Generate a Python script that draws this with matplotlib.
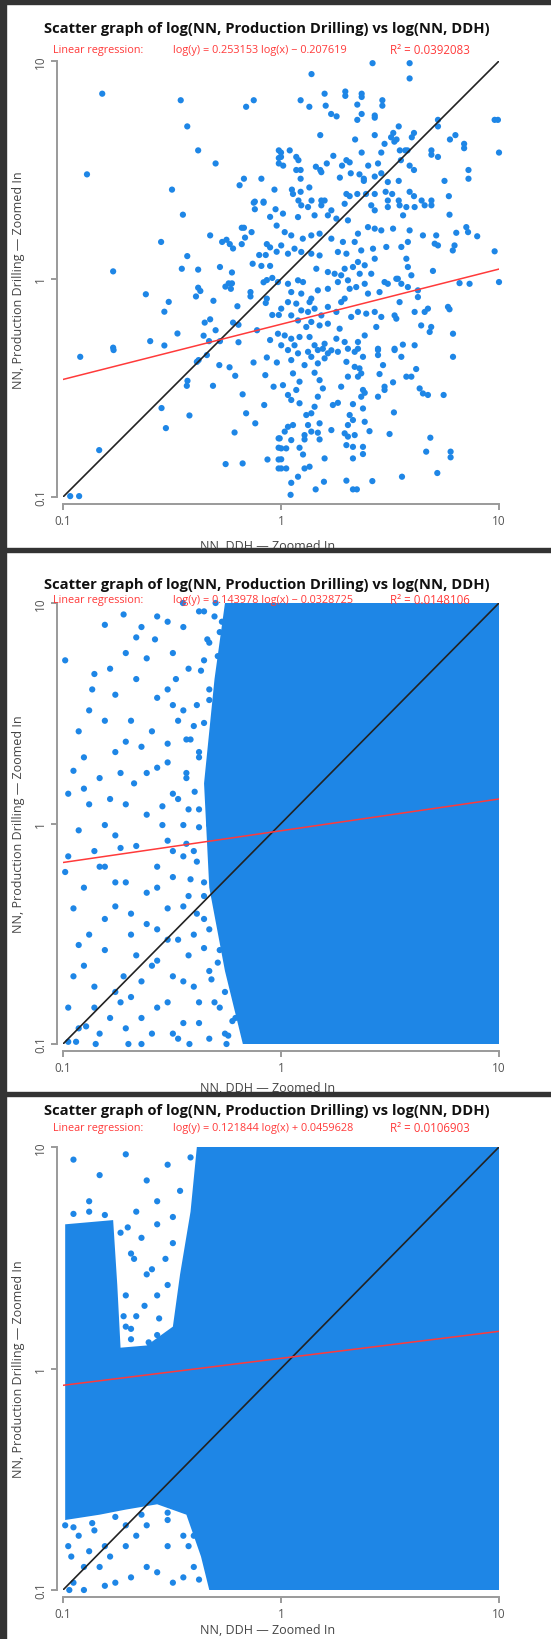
import matplotlib.pyplot as plt
from matplotlib.patches import Rectangle
from matplotlib.ticker import NullLocator
import numpy as np

# points are stored as (log10 NN DDH, log10 NN Production Drilling)
p1_points = [
    (-0.82, 0.85), (-0.46, 0.82), (-0.16, 0.79), (-0.125, 0.82), (-0.43, 0.70), (-0.38, 0.59),
    (-0.30, 0.53), (-0.89, 0.48), (-0.50, 0.41), (-0.17, 0.46), (-0.19, 0.43), (-0.09, 0.46),
    (-0.03, 0.41), (-0.12, 0.355), (-0.08, 0.355), (-0.01, 0.59), (-0.01, 0.555), (-0.01, 0.53),
    (0.42, 0.99), (0.59, 0.99), (0.59, 0.92), (0.14, 0.94), (0.20, 0.85), (0.295, 0.86),
    (0.295, 0.84), (0.37, 0.85), (0.37, 0.835), (0.09, 0.82), (0.13, 0.79), (0.205, 0.795),
    (0.35, 0.80), (0.465, 0.82), (0.465, 0.795), (0.23, 0.757), (0.255, 0.746), (0.35, 0.73),
    (0.37, 0.757), (0.43, 0.75), (0.43, 0.74), (0.18, 0.66), (0.34, 0.64), (0.43, 0.66),
    (0.54, 0.70), (0.515, 0.67), (0.505, 0.65), (0.53, 0.64), (0.52, 0.63), (0.61, 0.67),
    (0.60, 0.65), (0.72, 0.73), (0.72, 0.70), (0.98, 0.73), (0.995, 0.73), (0.80, 0.66),
    (0.775, 0.64), (0.84, 0.62), (0.84, 0.60), (1.0, 0.58), (0.69, 0.59), (0.69, 0.57),
    (0.72, 0.56), (0.475, 0.62), (0.37, 0.58), (0.46, 0.58), (0.545, 0.59), (0.57, 0.59),
    (0.58, 0.59), (0.55, 0.545), (0.59, 0.52), (0.61, 0.50), (0.04, 0.59), (0.00, 0.58),
    (0.00, 0.56), (0.01, 0.52), (0.07, 0.56), (0.08, 0.545), (0.07, 0.50), (0.09, 0.50),
    (0.09, 0.46), (0.24, 0.565), (0.21, 0.53), (0.16, 0.515), (0.18, 0.50), (0.185, 0.49),
    (0.28, 0.52), (0.30, 0.545), (0.315, 0.535), (0.32, 0.485), (0.36, 0.48), (0.38, 0.46),
    (0.38, 0.45), (0.40, 0.52), (0.445, 0.53), (0.46, 0.485), (0.43, 0.47), (0.49, 0.445),
    (0.54, 0.45), (0.27, 0.465), (0.86, 0.50), (0.86, 0.46), (0.75, 0.45), (0.77, 0.38),
    (0.13, 0.42), (0.05, 0.41), (0.055, 0.39), (0.09, 0.40), (0.30, 0.39), (0.315, 0.38),
    (0.35, 0.39), (0.39, 0.39), (0.43, 0.39), (0.48, 0.40), (0.51, 0.39), (0.59, 0.40),
    (0.61, 0.38), (0.08, 0.36), (0.14, 0.36), (0.185, 0.36), (0.20, 0.36), (0.49, 0.36),
    (0.54, 0.36), (0.645, 0.36), (0.69, 0.36),
    (-0.45, 0.295), (-0.55, 0.17), (-0.77, 0.035), (-0.43, 0.105), (-0.455, 0.047), (-0.38, 0.043),
    (-0.325, 0.20), (-0.28, 0.055), (-0.225, 0.03), (-0.27, 0.17), (-0.25, 0.18), (-0.235, 0.16),
    (-0.22, 0.14), (-0.18, 0.235), (-0.17, 0.235), (-0.135, 0.215), (-0.18, 0.16), (-0.165, 0.19),
    (-0.125, 0.35), (-0.12, 0.32), (-0.08, 0.35), (-0.05, 0.285), (-0.025, 0.32), (-0.02, 0.245),
    (-0.065, 0.16), (-0.07, 0.11), (-0.10, 0.11), (-0.05, 0.145), (-0.02, 0.125), (-0.13, 0.07),
    (-0.09, 0.06), (-0.05, 0.06), (-0.08, -0.015), (-0.065, -0.005), (-0.04, 0.005), (-0.255, -0.035),
    (-0.24, -0.02), (-0.225, -0.02), (-0.23, -0.045), (-0.38, -0.04), (-0.37, -0.055), (-0.39, -0.08),
    (-0.31, -0.10), (-0.20, -0.125), (-0.14, -0.06), (-0.14, -0.08), (-0.065, -0.09), (-0.07, -0.11),
    (-0.62, -0.07), (-0.515, -0.105), (-0.535, -0.15), (-0.325, -0.185), (-0.35, -0.20), (-0.22, -0.20),
    (-0.195, -0.21), (-0.30, -0.235), (-0.355, -0.26), (-0.475, -0.25), (-0.60, -0.285), (-0.535, -0.305),
    (-0.77, -0.315), (-0.33, -0.285), (-0.28, -0.285), (-0.195, -0.29), (-0.11, -0.235), (-0.05, -0.28),
    (-0.04, -0.165), (-0.01, -0.165),
    (0.093, 0.338), (0.124, 0.33), (0.185, 0.338), (0.231, 0.315), (0.292, 0.345), (0.414, 0.338),
    (0.43, 0.315), (0.49, 0.33), (0.544, 0.338), (0.575, 0.33), (0.613, 0.33), (0.659, 0.338),
    (0.69, 0.338), (0.56, 0.292), (0.773, 0.295), (0.009, 0.30), (0.078, 0.284), (0.154, 0.292),
    (0.215, 0.292), (0.254, 0.277), (0.307, 0.269), (0.399, 0.238), (0.43, 0.231), (0.46, 0.223),
    (0.514, 0.231), (0.59, 0.223), (0.651, 0.20), (0.712, 0.20), (0.804, 0.212), (0.85, 0.238),
    (0.858, 0.215), (0.90, 0.196), (0.017, 0.215), (0.047, 0.20), (0.10, 0.185), (0.139, 0.20),
    (0.177, 0.208), (0.231, 0.185), (0.284, 0.17), (0.353, 0.208), (0.338, 0.17), (0.705, 0.162),
    (0.72, 0.154), (0.582, 0.17), (0.552, 0.147), (0.483, 0.147), (0.796, 0.154), (0.788, 0.131),
    (0.98, 0.127), (0.001, 0.154), (0.032, 0.116), (0.062, 0.139), (0.093, 0.124), (0.139, 0.116),
    (0.177, 0.108), (0.261, 0.124), (0.30, 0.116), (0.368, 0.131), (0.422, 0.139), (0.43, 0.093),
    (0.353, 0.078), (0.384, 0.063), (0.33, 0.055), (0.292, 0.047), (0.246, 0.024), (0.215, 0.032),
    (0.162, 0.047), (0.575, 0.093), (0.582, 0.055), (0.598, 0.017), (0.536, 0.001), (0.697, 0.037),
    (0.414, 0.024), (0.361, 0.024), (-0.014, -0.014), (0.032, -0.022), (0.078, -0.006), (0.101, -0.014),
    (0.047, -0.06), (0.093, -0.067), (0.169, -0.052), (0.139, -0.09), (0.215, -0.045), (0.261, -0.014),
    (0.276, 0.017), (0.307, -0.006), (0.315, -0.045), (0.345, -0.037), (0.384, -0.022), (0.399, -0.067),
    (0.452, -0.06), (0.475, -0.014), (0.49, -0.022), (0.529, 0.001), (0.552, -0.022), (0.582, -0.037),
    (0.628, -0.052), (0.628, -0.083), (0.819, -0.019), (0.865, -0.022), (1.0, -0.014), (0.292, -0.09),
    (0.276, -0.106), (0.001, -0.136), (0.032, -0.106), (0.07, -0.113), (0.093, -0.144), (0.124, -0.151),
    (0.154, -0.136), (0.185, -0.167), (0.215, -0.128), (0.254, -0.151), (0.322, -0.174), (0.353, -0.151),
    (0.391, -0.159), (0.43, -0.151), (0.46, -0.174), (0.521, -0.167), (0.529, -0.182), (0.544, -0.106),
    (0.613, -0.151), (0.659, -0.151), (0.674, -0.136), (0.766, -0.128), (0.773, -0.139), (0.131, -0.106),
    (0.047, -0.167), (0.078, -0.19), (0.139, -0.197), (0.177, -0.213), (0.215, -0.205), (0.116, -0.22),
    (-0.014, -0.251), (0.017, -0.259), (0.047, -0.274), (0.085, -0.266), (0.131, -0.266), (0.001, -0.304),
    (0.062, -0.304), (0.154, -0.304), (0.20, -0.297), (0.254, -0.274), (0.292, -0.289), (0.269, -0.228),
    (0.307, -0.32), (0.353, -0.289), (0.353, -0.32), (0.384, -0.259), (0.437, -0.22), (0.445, -0.32),
    (0.521, -0.32), (0.559, -0.301), (0.613, -0.304), (0.643, -0.213), (0.689, -0.22), (0.682, -0.243),
    (0.789, -0.251), (0.192, -0.32), (0.231, -0.327),
    (0.032, -0.326), (0.078, -0.341), (0.124, -0.334), (0.169, -0.326), (0.215, -0.341), (0.261, -0.334),
    (0.139, -0.357), (0.20, -0.364), (0.047, -0.372), (0.108, -0.395), (0.169, -0.387), (0.30, -0.38),
    (0.338, -0.334), (0.376, -0.357), (0.445, -0.349), (0.445, -0.326), (0.521, -0.326), (0.552, -0.357),
    (0.468, -0.395), (0.338, -0.403), (0.36, -0.41), (0.789, -0.357), (0.62, -0.413),
    (0.055, -0.433), (0.085, -0.471), (0.009, -0.487), (0.154, -0.43), (0.177, -0.464), (0.192, -0.502),
    (0.276, -0.494), (0.307, -0.448), (0.353, -0.448), (0.368, -0.433), (0.452, -0.436), (0.514, -0.474),
    (0.575, -0.448), (0.598, -0.448), (0.475, -0.494), (0.475, -0.509), (0.376, -0.509), (0.384, -0.522),
    (0.07, -0.509), (0.636, -0.502), (0.651, -0.525), (0.674, -0.532), (0.746, -0.532),
    (0.032, -0.532), (0.047, -0.555), (0.085, -0.57), (0.169, -0.54), (0.154, -0.586), (0.139, -0.616),
    (0.116, -0.624), (0.238, -0.578), (0.261, -0.568), (0.33, -0.574), (0.376, -0.594), (0.445, -0.54),
    (0.368, -0.54), (0.518, -0.612), (0.315, -0.624), (0.33, -0.647), (0.384, -0.655), (0.307, -0.67),
    (0.177, -0.662), (0.124, -0.67), (0.055, -0.67), (0.032, -0.678),
    (0.017, -0.70), (-0.006, -0.731), (0.047, -0.739), (0.108, -0.716), (0.108, -0.736), (0.139, -0.70),
    (0.169, -0.705), (0.177, -0.736), (0.231, -0.693), (0.292, -0.708), (0.307, -0.723), (0.30, -0.762),
    (0.33, -0.77), (0.338, -0.716), (0.406, -0.698), (0.498, -0.711), (0.376, -0.77), (0.376, -0.803),
    (0.001, -0.777), (0.024, -0.777), (0.085, -0.774), (0.101, -0.805), (0.001, -0.827), (0.20, -0.823),
    (0.33, -0.823), (0.685, -0.728), (0.666, -0.792), (0.778, -0.792), (0.778, -0.818),
    (0.001, -0.869), (0.024, -0.869), (0.108, -0.869), (0.131, -0.861), (0.078, -0.907), (0.047, -0.935),
    (0.197, -0.93), (0.159, -0.965), (0.30, -0.925), (0.33, -0.965), (0.348, -0.965), (0.419, -0.927),
    (0.555, -0.907), (0.717, -0.89), (0.044, -0.99),
    (-0.921, -0.357), (-0.768, -0.326), (-0.386, -0.38), (-0.378, -0.372), (-0.34, -0.349), (-0.283, -0.395),
    (-0.236, -0.405), (-0.21, -0.444), (-0.126, -0.383), (-0.065, -0.36), (-0.019, -0.383), (-0.072, -0.441),
    (-0.034, -0.494), (-0.429, -0.467), (-0.432, -0.49), (-0.312, -0.49), (-0.176, -0.529), (-0.077, -0.578),
    (-0.16, -0.616), (-0.118, -0.662), (-0.213, -0.704), (-0.548, -0.592), (-0.42, -0.626), (-0.528, -0.684),
    (-0.834, -0.785), (-0.254, -0.849), (-0.176, -0.846), (-0.062, -0.828), (-0.011, -0.731), (-0.011, -0.774),
    (-0.011, -0.828), (-0.011, -0.869), (-0.967, -0.996), (-0.926, -0.996),
]

# saturated middle of the second cloud (outline, log10 units) and the loose points around it
p2_core_x = [-0.257, 1.0, 1.0, -0.175, -0.257, -0.329, -0.353, -0.305]
p2_core_y = [1.0, 1.0, -1.0, -1.0, -0.669, -0.291, 0.182, 0.655]
p2_points = [
    (-0.808, 0.901), (-0.664, 0.844), (-0.568, 0.939), (-0.448, 0.891), (-0.353, 0.962), (-0.281, 0.868),
    (-0.209, 0.939), (-0.99, 0.74), (-0.784, 0.702), (-0.866, 0.608), (-0.664, 0.655), (-0.52, 0.608),
    (-0.424, 0.702), (-0.329, 0.56), (-0.257, 0.655), (-0.928, 0.418), (-0.808, 0.466), (-0.712, 0.371),
    (-0.592, 0.418), (-0.472, 0.466), (-0.376, 0.324), (-0.281, 0.418), (-0.952, 0.239), (-0.832, 0.206),
    (-0.736, 0.229), (-0.568, 0.253), (-0.976, 0.135), (-0.88, 0.087), (-0.712, 0.087), (-0.616, 0.04),
    (-0.496, 0.135), (-0.376, 0.064), (-0.329, -0.007), (-0.928, -0.031), (-0.76, -0.054), (-0.976, -0.149),
    (-0.856, -0.125), (-0.664, -0.102), (-0.568, -0.196), (-0.448, -0.149), (-0.353, -0.267), (-0.904, -0.291),
    (-0.76, -0.267), (-0.616, -0.314), (-0.952, -0.385), (-0.808, -0.433), (-0.688, -0.409), (-0.568, -0.48),
    (-0.472, -0.527), (-0.353, -0.433), (-0.281, -0.574), (-0.928, -0.551), (-0.664, -0.598), (-0.952, -0.693),
    (-0.856, -0.74), (-0.76, -0.764), (-0.64, -0.716), (-0.52, -0.811), (-0.40, -0.74), (-0.305, -0.811),
    (-0.209, -0.882), (-0.976, -0.835), (-0.928, -0.929), (-0.832, -0.953), (-0.592, -0.953), (-0.472, -0.976),
    (-0.329, -0.976), (-0.137, -0.976), (-0.976, -0.99), (-0.94, -0.99),
    (-0.722, 0.948), (-0.578, 0.835), (-0.52, 0.915), (-0.376, 0.962), (-0.329, 0.82), (-0.271, 0.915),
    (-0.856, 0.678), (-0.616, 0.749), (-0.482, 0.655), (-0.353, 0.74), (-0.88, 0.513), (-0.76, 0.584),
    (-0.688, 0.466), (-0.496, 0.537), (-0.40, 0.442), (-0.904, 0.30), (-0.64, 0.348), (-0.52, 0.277),
    (-0.434, 0.381), (-0.904, 0.158), (-0.784, 0.111), (-0.674, 0.182), (-0.544, 0.078), (-0.434, 0.206),
    (-0.808, -0.007), (-0.736, -0.111), (-0.52, -0.078), (-0.448, -0.007), (-0.40, -0.125), (-0.99, -0.22),
    (-0.808, -0.196), (-0.712, -0.267), (-0.496, -0.243), (-0.424, -0.329), (-0.88, -0.504), (-0.76, -0.376),
    (-0.616, -0.456), (-0.52, -0.385), (-0.40, -0.504), (-0.904, -0.645), (-0.808, -0.574), (-0.722, -0.693),
    (-0.568, -0.622), (-0.496, -0.693), (-0.424, -0.598), (-0.329, -0.669), (-0.894, -0.92), (-0.856, -0.835),
    (-0.784, -0.882), (-0.712, -0.929), (-0.688, -0.787), (-0.568, -0.835), (-0.448, -0.905), (-0.376, -0.811),
    (-0.257, -0.953), (-0.185, -0.811), (-0.85, -1.0), (-0.70, -1.0), (-0.64, -1.0), (-0.42, -1.0),
    (-0.25, -1.0), (-0.45, 1.0), (-0.30, 1.0),
    (-0.305, 0.939), (-0.338, 0.835), (-0.29, 0.759), (-0.367, 0.693), (-0.329, 0.608), (-0.386, 0.537),
    (-0.353, 0.456), (-0.415, 0.381), (-0.376, 0.30), (-0.434, 0.229), (-0.396, 0.144), (-0.424, 0.064),
    (-0.376, -0.017), (-0.434, -0.092), (-0.386, -0.173), (-0.415, -0.253), (-0.353, -0.329), (-0.386, -0.409),
    (-0.329, -0.48), (-0.353, -0.565), (-0.29, -0.631), (-0.319, -0.707), (-0.257, -0.764), (-0.281, -0.835),
    (-0.223, -0.896), (-0.242, -0.962),
    (-0.64, 0.891), (-0.496, 0.773), (-0.568, 0.57), (-0.448, 0.513), (-0.52, 0.362), (-0.616, 0.229),
    (-0.472, 0.111), (-0.544, -0.007), (-0.496, -0.125), (-0.568, -0.291), (-0.448, -0.376), (-0.52, -0.527),
    (-0.592, -0.645), (-0.448, -0.716), (-0.376, -0.905), (-0.64, -0.882), (-0.496, -0.953), (-0.712, 0.773),
    (-0.76, 0.324), (-0.832, -0.196), (-0.688, -0.504), (-0.736, -0.811),
]

# third cloud: one saturated outline (block plus the band along the left edge) and loose points
p3_core_x = [-0.386, 1.0, 1.0, -0.329, -0.367, -0.434, -0.568, -0.712, -0.832, -0.99,
             -0.99, -0.77, -0.751, -0.736, -0.616, -0.496, -0.463, -0.415]
p3_core_y = [1.0, 1.0, -1.0, -1.0, -0.849, -0.66, -0.613, -0.637, -0.66, -0.684,
             0.651, 0.67, 0.377, 0.094, 0.104, 0.189, 0.425, 0.708]
p3_points = [
    (-0.952, 0.943), (-0.832, 0.873), (-0.712, 0.967), (-0.616, 0.849), (-0.52, 0.92), (-0.88, 0.755),
    (-0.664, 0.708), (-0.568, 0.755), (-0.688, 0.519), (-0.616, 0.425), (-0.664, 0.236), (-0.568, 0.33),
    (-0.712, -0.708), (-0.808, -0.802), (-0.904, -0.896), (-0.952, -0.967), (-0.616, -0.896), (-0.52, -0.802),
    (-0.448, -0.943), (-0.76, -0.967), (-0.856, -0.731), (-0.976, -0.802),
    (-0.703, 0.637), (-0.64, 0.59), (-0.568, 0.651), (-0.496, 0.566), (-0.674, 0.495), (-0.592, 0.448),
    (-0.52, 0.377), (-0.712, 0.33), (-0.626, 0.283), (-0.559, 0.226), (-0.688, 0.179), (-0.607, 0.118),
    (-0.53, 0.071), (-0.99, -0.708), (-0.928, -0.755), (-0.962, -0.849), (-0.88, -0.825), (-0.832, -0.896),
    (-0.784, -0.849), (-0.712, -0.802), (-0.664, -0.755), (-0.616, -0.708), (-0.52, -0.684), (-0.448, -0.755),
    (-0.40, -0.896), (-0.496, -0.967), (-0.568, -0.92), (-0.688, -0.943), (-0.808, -0.981), (-0.904, -1.0),
    (-0.971, -1.0), (-0.415, 0.953), (-0.463, 0.802), (-0.496, 0.684), (-0.53, 0.495), (-0.424, -0.802),
    (-0.376, -0.953), (-0.736, 0.613), (-0.722, 0.236), (-0.952, 0.698), (-0.88, 0.708), (-0.808, 0.693),
    (-0.952, -0.717), (-0.866, -0.698), (-0.76, -0.67), (-0.64, -0.66), (-0.52, -0.651), (-0.40, -0.755),
    (-0.688, 0.132), (-0.568, 0.151), (-0.712, 0.189),
]

slopes = [0.253153, 0.143978, 0.121844]
intercepts = [-0.207619, -0.0328725, 0.0459628]
slope_text = ['0.253153', '0.143978', '0.121844']
intercept_text = ['− 0.207619', '− 0.0328725', '+ 0.0459628']
r2_text = ['0.0392083', '0.0148106', '0.0106903']

W, H = 551, 1640
BLUE = '#1E86E6'
RED = '#FF3A3A'
plt.rcParams['font.family'] = ['Open Sans', 'DejaVu Sans']

fig = plt.figure(figsize=(W / 100, H / 100), dpi=100)


def fx(px):
    return px / W


def fy(py):
    return 1 - py / H


# pixel layout of each panel
layout = [
    dict(top=62, bottom=498, title=29, reg=51, xlab=546),
    dict(top=604, bottom=1045, title=585, reg=601, xlab=1088),
    dict(top=1148, bottom=1591, title=1111, reg=1129, xlab=1631),
]
points = [p1_points, p2_points, p3_points]
cores = [[], [(p2_core_x, p2_core_y)], [(p3_core_x, p3_core_y)]]

for i, lay in enumerate(layout):
    ax = fig.add_axes([fx(63), fy(lay['bottom']), 436 / W, (lay['bottom'] - lay['top']) / H])
    ax.set_xscale('log')
    ax.set_yscale('log')
    ax.set_xlim(0.1, 10)
    ax.set_ylim(0.1, 10)

    for cx, cy in cores[i]:
        ax.fill(10 ** np.array(cx), 10 ** np.array(cy), color=BLUE, lw=0, zorder=1.9)
    lx, ly = zip(*points[i])
    ax.scatter(10 ** np.array(lx), 10 ** np.array(ly), s=20, color=BLUE,
               edgecolors='none', clip_on=False, zorder=2)

    ax.plot([0.1, 10], [0.1, 10], color='#222222', lw=1.2, zorder=3)
    xs = np.array([0.1, 10])
    ax.plot(xs, 10 ** (intercepts[i] + slopes[i] * np.log10(xs)), color=RED, lw=1.1, zorder=3)

    for side in ['top', 'right']:
        ax.spines[side].set_visible(False)
    ax.spines['left'].set_position(('outward', 4.5))
    ax.spines['bottom'].set_position(('outward', 5))
    for side in ['left', 'bottom']:
        ax.spines[side].set_color('#9a9a9a')
        ax.spines[side].set_linewidth(1.4)
    ax.set_xticks([0.1, 1, 10])
    ax.set_yticks([0.1, 1, 10])
    ax.set_xticklabels(['0.1', '1', '10'])
    ax.set_yticklabels(['0.1', '1', '10'], rotation=90, va='center')
    ax.xaxis.set_minor_locator(NullLocator())
    ax.yaxis.set_minor_locator(NullLocator())
    ax.tick_params(length=4, width=1.4, color='#9a9a9a', labelcolor='#555555', labelsize=8.5, pad=3)
    ax.patch.set_visible(False)

    fig.text(fx(267), fy(lay['title']), 'Scatter graph of log(NN, Production Drilling) vs log(NN, DDH)',
             ha='center', va='center', fontsize=10.6, fontweight='bold', color='#111111')
    fig.text(fx(53), fy(lay['reg']), 'Linear regression:', ha='left', va='center', fontsize=7.8, color=RED)
    fig.text(fx(173), fy(lay['reg']), 'log(y) = ' + slope_text[i] + ' log(x) ' + intercept_text[i],
             ha='left', va='center', fontsize=7.8, color=RED)
    fig.text(fx(390), fy(lay['reg']), 'R² = ' + r2_text[i], ha='left', va='center', fontsize=8.3, color=RED)
    fig.text(fx(268), fy(lay['xlab']), 'NN, DDH — Zoomed In', ha='center', va='center',
             fontsize=9, color='#444444')
    fig.text(fx(19), fy((lay['top'] + lay['bottom']) / 2), 'NN, Production Drilling — Zoomed In',
             ha='center', va='center', rotation=90, fontsize=9, color='#444444')

# dark frame around the panels
for x0, y0, w, h in [(0, 0, 6, H), (0, 0, W, 5), (0, 549, W, 4), (0, 1093, W, 4)]:
    fig.patches.append(Rectangle((fx(x0), fy(y0 + h)), w / W, h / H, transform=fig.transFigure,
                                 color='#333333', zorder=10))

fig.savefig('out.png', dpi=100)
